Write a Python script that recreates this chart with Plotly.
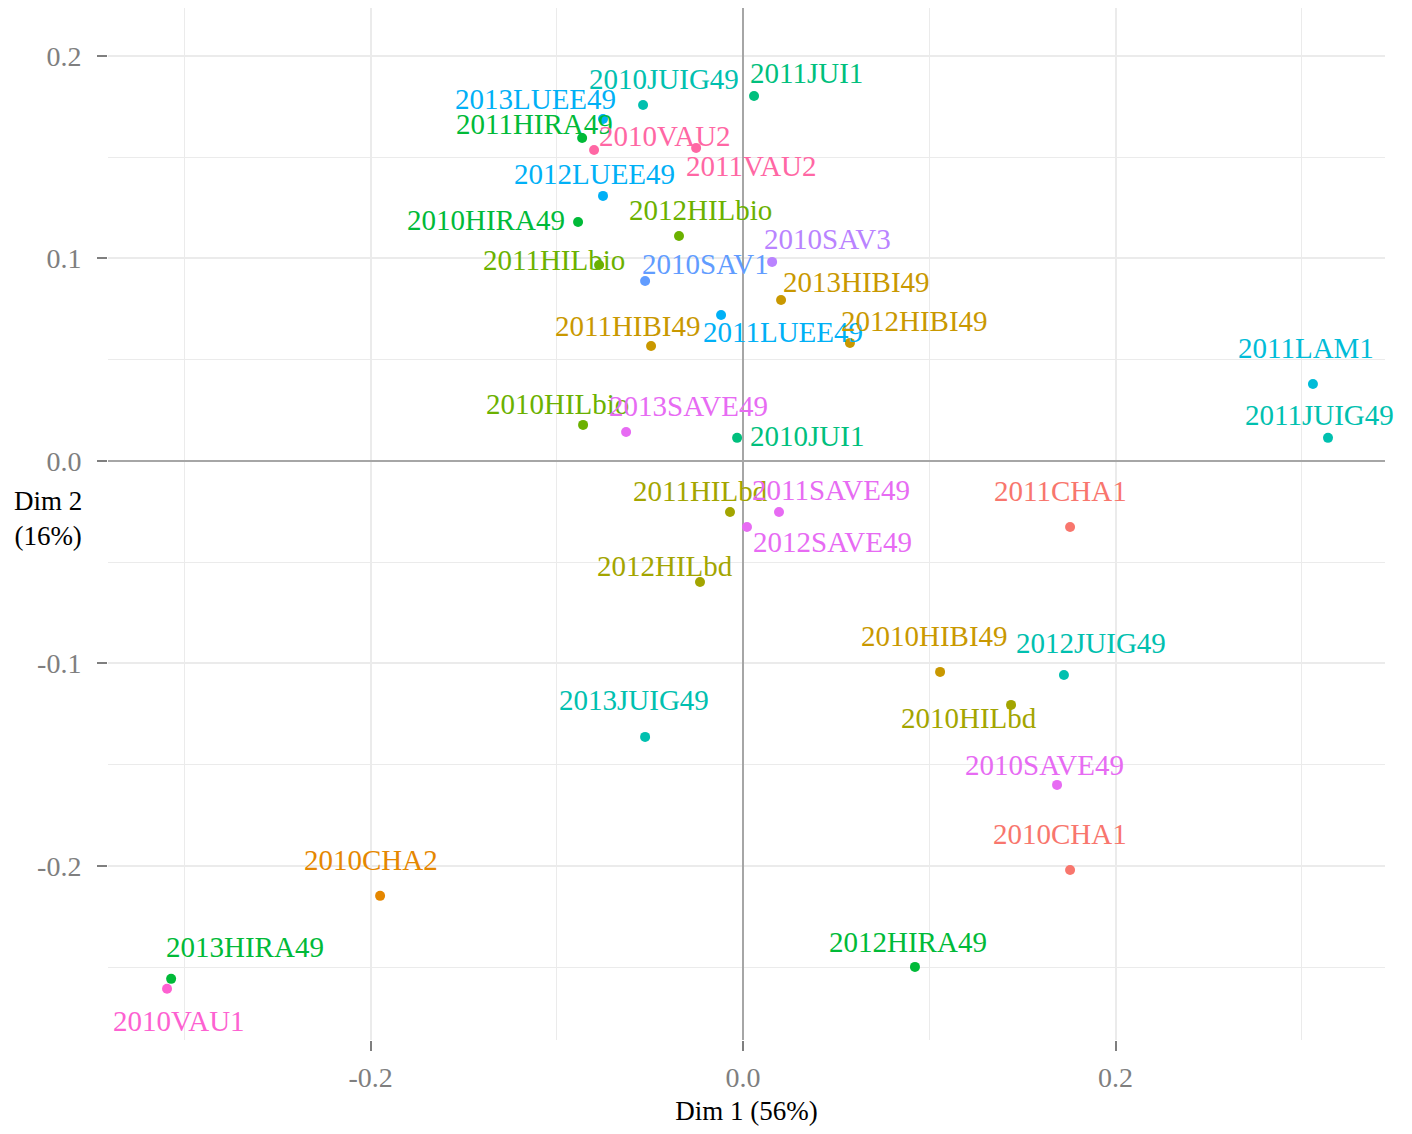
import plotly.graph_objects as go

# ---- data ----
names = ["2011JUI1", "2010JUIG49", "2013LUEE49", "2011HIRA49", "2010VAU2", "2011VAU2",
         "2012LUEE49", "2010HIRA49", "2012HILbio", "2011HILbio", "2010SAV1", "2010SAV3",
         "2013HIBI49", "2011LUEE49", "2011HIBI49", "2012HIBI49", "2011LAM1", "2011JUIG49",
         "2010HILbio", "2013SAVE49", "2010JUI1", "2011HILbd", "2011SAVE49", "2012SAVE49",
         "2011CHA1", "2012HILbd", "2010HIBI49", "2012JUIG49", "2010HILbd", "2013JUIG49",
         "2010SAVE49", "2010CHA1", "2010CHA2", "2012HIRA49", "2013HIRA49", "2010VAU1"]
groups = ["JUI1", "JUIG49", "LUEE49", "HIRA49", "VAU2", "VAU2",
          "LUEE49", "HIRA49", "HILbio", "HILbio", "SAV1", "SAV3",
          "HIBI49", "LUEE49", "HIBI49", "HIBI49", "LAM1", "JUIG49",
          "HILbio", "SAVE49", "JUI1", "HILbd", "SAVE49", "SAVE49",
          "CHA1", "HILbd", "HIBI49", "JUIG49", "HILbd", "JUIG49",
          "SAVE49", "CHA1", "CHA2", "HIRA49", "HIRA49", "VAU1"]
dim1 = [0.0059, -0.0537, -0.0752, -0.0864, -0.0800, -0.0252,
        -0.0752, -0.0886, -0.0344, -0.0773, -0.0526, 0.0156,
        0.0204, -0.0118, -0.0494, 0.0574, 0.3060, 0.3141,
        -0.0859, -0.0628, -0.0032, -0.0070, 0.0193, 0.0021,
        0.1756, -0.0231, 0.1058, 0.1723, 0.1439, -0.0526,
        0.1686, 0.1756, -0.1949, 0.0923, -0.3071, -0.3093]
dim2 = [0.1802, 0.1758, 0.1689, 0.1595, 0.1536, 0.1546,
        0.1309, 0.1180, 0.1111, 0.0968, 0.0889, 0.0983,
        0.0795, 0.0721, 0.0568, 0.0583, 0.0380, 0.0114,
        0.0178, 0.0143, 0.0114, -0.0252, -0.0252, -0.0326,
        -0.0326, -0.0598, -0.1042, -0.1057, -0.1205, -0.1363,
        -0.1600, -0.2020, -0.2148, -0.2499, -0.2558, -0.2607]
# repelled label positions (data units)
label_x = [0.0338, -0.0424, -0.1117, -0.1122, -0.0419, 0.0043,
           -0.0800, -0.1380, -0.0231, -0.1015, -0.0199, 0.0451,
           0.0607, 0.0215, -0.0617, 0.0923, 0.3023, 0.3093,
           -0.0999, -0.0295, 0.0344, -0.0231, 0.0472, 0.0478,
           0.1702, -0.0419, 0.1026, 0.1868, 0.1213, -0.0585,
           0.1621, 0.1702, -0.1997, 0.0886, -0.2674, -0.3028]
label_y = [0.1916, 0.1886, 0.1788, 0.1664, 0.1605, 0.1457,
           0.1417, 0.1190, 0.1240, 0.0993, 0.0973, 0.1096,
           0.0884, 0.0637, 0.0667, 0.0691, 0.0558, 0.0227,
           0.0281, 0.0272, 0.0123, -0.0148, -0.0143, -0.0400,
           -0.0148, -0.0519, -0.0864, -0.0899, -0.1269, -0.1180,
           -0.1501, -0.1842, -0.1970, -0.2375, -0.2400, -0.2765]

group_levels = ["CHA1", "CHA2", "HIBI49", "HILbd", "HILbio", "HIRA49", "JUI1", "JUIG49",
                "LAM1", "LUEE49", "SAV1", "SAV3", "SAVE49", "VAU1", "VAU2"]
palette = ["#F8766D", "#E58700", "#C99800", "#A3A500", "#6BB100", "#00BA38", "#00BF7D",
           "#00C0AF", "#00BCD8", "#00B0F6", "#619CFF", "#B983FF", "#E76BF3", "#FD61D1", "#FF67A4"]
color_of = dict(zip(group_levels, palette))

FONT = "Liberation Serif, Times New Roman, serif"

fig = go.Figure()
for g in group_levels:
    idx = [i for i, gg in enumerate(groups) if gg == g]
    fig.add_trace(go.Scatter(
        x=[dim1[i] for i in idx], y=[dim2[i] for i in idx],
        mode="markers", marker=dict(color=color_of[g], size=10, symbol="circle"),
        showlegend=False, hoverinfo="text", text=[names[i] for i in idx]))

for i, n in enumerate(names):
    fig.add_annotation(x=label_x[i], y=label_y[i], xref="x", yref="y", text=n,
                       showarrow=False, font=dict(family=FONT, size=29, color=color_of[groups[i]]))

fig.add_annotation(x=-0.047, y=0.505, xref="paper", yref="paper", text="Dim 2<br>(16%)",
                   showarrow=False, xanchor="center", yanchor="middle", align="center",
                   font=dict(family=FONT, size=27, color="black"))

fig.update_layout(
    width=1404, height=1126,
    margin=dict(l=100, r=27, t=0, b=94, autoexpand=False),
    plot_bgcolor="white", paper_bgcolor="white",
    font=dict(family=FONT),
    xaxis=dict(range=[-0.341, 0.3447], tickvals=[-0.2, 0.0, 0.2], ticktext=["-0.2", "0.0", "0.2"],
               showgrid=True, gridcolor="#EBEBEB", gridwidth=2,
               minor=dict(tickvals=[-0.3, -0.1, 0.1, 0.3], showgrid=True, gridcolor="#EBEBEB", gridwidth=1.2, ticks=""),
               zeroline=True, zerolinecolor="#A6A6A6", zerolinewidth=2,
               ticks="outside", ticklen=10, tickwidth=1.5, tickcolor="#7F7F7F",
               tickfont=dict(family=FONT, size=28, color="#7F7F7F"),
               ticklabelstandoff=2,
               title=dict(text="Dim 1 (56%)", font=dict(family=FONT, size=27, color="black"), standoff=9),
               showline=False),
    yaxis=dict(range=[-0.286, 0.2237], tickvals=[-0.2, -0.1, 0.0, 0.1, 0.2],
               ticktext=["-0.2", "-0.1", "0.0", "0.1", "0.2"],
               showgrid=True, gridcolor="#EBEBEB", gridwidth=2,
               minor=dict(tickvals=[-0.25, -0.15, -0.05, 0.05, 0.15], showgrid=True, gridcolor="#EBEBEB", gridwidth=1.2, ticks=""),
               zeroline=True, zerolinecolor="#A6A6A6", zerolinewidth=2,
               ticks="outside", ticklen=10, tickwidth=1.5, tickcolor="#7F7F7F",
               tickfont=dict(family=FONT, size=28, color="#7F7F7F"),
               ticklabelstandoff=10,
               showline=False),
)

fig.write_html("out.html")
